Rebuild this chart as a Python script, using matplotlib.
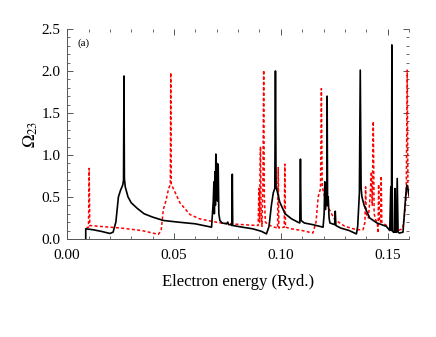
import numpy as np
import matplotlib.pyplot as plt
from matplotlib.ticker import MultipleLocator, FormatStrFormatter

# black solid curve (energy in Ryd., collision strength)
black_e = [0.0087, 0.0087, 0.012, 0.016, 0.020, 0.0215, 0.0228, 0.0240, 0.0250,
           0.0260, 0.0264, 0.0266, 0.0268, 0.0272, 0.0285, 0.030, 0.033, 0.036,
           0.040, 0.045, 0.052, 0.060, 0.0676, 0.0684, 0.0687, 0.0689, 0.0692,
           0.0694, 0.0696, 0.0698, 0.0701, 0.0704, 0.0707, 0.0710, 0.0715,
           0.0725, 0.0746, 0.0752, 0.0756, 0.0768, 0.0771, 0.0773, 0.0775,
           0.082, 0.087, 0.091, 0.0933, 0.0945, 0.0956, 0.0965, 0.0972, 0.0975,
           0.0978, 0.0985, 0.0995, 0.102, 0.105, 0.108, 0.1089, 0.1092, 0.1095,
           0.111, 0.115, 0.1198, 0.1203, 0.1206, 0.1209, 0.1212, 0.1215,
           0.1217, 0.1219, 0.1222, 0.1226, 0.123, 0.1252, 0.1255, 0.1258,
           0.128, 0.132, 0.1354, 0.136, 0.1368, 0.1372, 0.1376, 0.138, 0.139,
           0.1416, 0.145, 0.1494, 0.151, 0.1515, 0.1518, 0.1520, 0.1522,
           0.1527, 0.1531, 0.1534, 0.1537, 0.1541, 0.1545, 0.1549, 0.1555,
           0.1572, 0.158, 0.1586, 0.159, 0.1595, 0.160]
black_o = [0.0, 0.12, 0.11, 0.09, 0.065, 0.08, 0.2, 0.5, 0.58,
           0.64, 0.7, 1.94, 0.72, 0.62, 0.5, 0.43, 0.36, 0.3,
           0.26, 0.22, 0.2, 0.18, 0.14, 0.45, 0.68, 0.3, 0.8,
           0.4, 1.01, 0.5, 0.9, 0.45, 0.89, 0.3, 0.22,
           0.19, 0.18, 0.2, 0.17, 0.17, 0.16, 0.77, 0.16,
           0.14, 0.12, 0.09, 0.06, 0.15, 0.4, 0.55, 0.6, 2.0,
           0.62, 0.55, 0.44, 0.3, 0.24, 0.2, 0.19, 0.95, 0.22,
           0.19, 0.17, 0.14, 0.3, 0.68, 0.35, 0.6, 0.4,
           1.70, 0.4, 0.5, 0.25, 0.19, 0.17, 0.33, 0.16,
           0.13, 0.1, 0.06, 0.15, 0.55, 2.01, 0.6, 0.5, 0.4,
           0.25, 0.19, 0.15, 0.1, 0.62, 0.1, 2.31, 0.1,
           0.08, 0.08, 0.6, 0.08, 0.08, 0.72, 0.08, 0.07,
           0.08, 0.35, 0.55, 0.64, 0.6, 0.52]

# red dashed curve
red_e = [0.0090, 0.0100, 0.0103, 0.0106, 0.015, 0.020, 0.025, 0.030, 0.035,
         0.040, 0.0427, 0.0440, 0.0450, 0.0462, 0.0475, 0.0483, 0.0485,
         0.0487, 0.0497, 0.0528, 0.0575, 0.062, 0.0676, 0.072, 0.0793,
         0.0855, 0.0894, 0.0898, 0.0901, 0.0903, 0.0905, 0.0908, 0.0912,
         0.0916, 0.0920, 0.0923, 0.0928, 0.094, 0.097, 0.0985, 0.0988,
         0.0991, 0.1016, 0.1019, 0.1022, 0.105, 0.110, 0.115, 0.1165,
         0.1175, 0.1186, 0.1190, 0.1194, 0.1213, 0.1252, 0.130, 0.1354,
         0.1385, 0.1394, 0.1397, 0.1400, 0.141, 0.1418, 0.1424, 0.1428,
         0.1433, 0.1437, 0.1445, 0.1452, 0.1455, 0.1458, 0.1462, 0.1467,
         0.1470, 0.1473, 0.150, 0.1548, 0.157, 0.158, 0.1587, 0.1592,
         0.1595, 0.160]
red_o = [0.13, 0.14, 0.84, 0.16, 0.15, 0.14, 0.13, 0.115, 0.1,
         0.07, 0.055, 0.1, 0.35, 0.45, 0.6, 0.65, 1.98,
         0.66, 0.6, 0.43, 0.29, 0.24, 0.21, 0.19, 0.175,
         0.165, 0.16, 0.6, 0.2, 0.9, 1.1, 0.3, 0.15,
         0.6, 2.01, 0.5, 0.2, 0.17, 0.14, 0.13, 0.85,
         0.13, 0.14, 0.89, 0.14, 0.12, 0.1, 0.07, 0.2,
         0.5, 0.6, 1.79, 0.62, 0.42, 0.23, 0.15, 0.11,
         0.11, 0.2, 0.62, 0.3, 0.25, 0.5, 0.8, 0.4,
         1.4, 0.3, 0.22, 0.2, 0.07, 0.65, 0.2, 0.2,
         0.75, 0.2, 0.15, 0.1, 0.12, 0.3, 0.5, 2.01,
         0.6, 0.5]

plt.rcParams['font.family'] = 'Liberation Serif'
plt.rcParams['mathtext.fontset'] = 'stix'

fig = plt.figure(figsize=(4.36, 3.37), dpi=100)
ax = fig.add_axes([0.154, 0.291, 0.784, 0.623])

ax.plot(red_e, red_o, color='red', linestyle=(0, (2, 1.5)), linewidth=1.1)
ax.plot(black_e, black_o, color='black', linewidth=1.2)

ax.set_xlim(0, 0.16)
ax.set_ylim(0, 2.5)
ax.xaxis.set_major_locator(MultipleLocator(0.05))
ax.xaxis.set_minor_locator(MultipleLocator(0.01))
ax.yaxis.set_major_locator(MultipleLocator(0.5))
ax.yaxis.set_minor_locator(MultipleLocator(0.1))
ax.xaxis.set_major_formatter(FormatStrFormatter('%.2f'))
ax.yaxis.set_major_formatter(FormatStrFormatter('%.1f'))
ax.tick_params(which='both', direction='in', top=True, right=True,
               color='#555555', labelsize=11)
ax.tick_params(which='major', length=4, width=0.7)
ax.tick_params(which='minor', length=2, width=0.6)
ax.tick_params(axis='x', which='major', pad=7)
ax.tick_params(axis='y', which='major', pad=5)
for s in ax.spines.values():
    s.set_color('#555555')
    s.set_linewidth(0.7)
for s in ['top', 'right']:
    ax.spines[s].set_visible(False)

ax.set_xlabel('Electron energy (Ryd.)', fontsize=12, labelpad=9)
ax.set_ylabel(r'$\Omega_{23}$', fontsize=13, labelpad=1)
ax.text(0.03, 0.955, '(a)', transform=ax.transAxes, fontsize=8, va='top')

plt.savefig('out.png', dpi=100)
plt.close()
